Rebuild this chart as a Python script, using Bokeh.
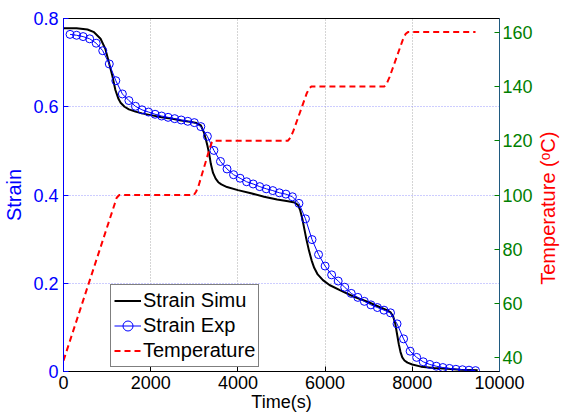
import math
from bokeh.plotting import figure
from bokeh.layouts import row
from bokeh.models import (Range1d, LinearAxis, FixedTicker, CustomJSTickFormatter,
                          Legend, LegendItem, Label)
from bokeh.embed import file_html
from bokeh.resources import INLINE

# ---- data -------------------------------------------------------------
# simulated strain (s, -)
time_sim = [0, 300, 550, 700, 850, 960, 1040, 1120, 1190, 1260, 1310, 1400, 1500,
            1650, 1800, 2000, 2250, 2500, 2700, 2900, 3050, 3150, 3220, 3260, 3300,
            3340, 3380, 3430, 3490, 3550, 3620, 3750, 4000, 4300, 4600, 4900, 5150,
            5300, 5380, 5430, 5480, 5520, 5570, 5630, 5690, 5750, 5830, 5950, 6100,
            6350, 6650, 7000, 7270, 7420, 7500, 7560, 7610, 7650, 7690, 7730, 7770,
            7820, 7890, 8000, 8200, 8500, 8800, 9100, 9500]
strain_sim = [0.778, 0.778, 0.775, 0.769, 0.754, 0.731, 0.701, 0.670, 0.638, 0.618,
              0.609, 0.600, 0.594, 0.589, 0.585, 0.581, 0.576, 0.573, 0.569, 0.566,
              0.563, 0.558, 0.542, 0.528, 0.512, 0.494, 0.470, 0.450, 0.437, 0.429,
              0.424, 0.418, 0.411, 0.404, 0.396, 0.390, 0.386, 0.383, 0.377, 0.365,
              0.345, 0.325, 0.300, 0.274, 0.252, 0.235, 0.220, 0.207, 0.196, 0.184,
              0.170, 0.157, 0.145, 0.139, 0.134, 0.125, 0.108, 0.085, 0.062, 0.044,
              0.032, 0.025, 0.020, 0.016, 0.011, 0.008, 0.006, 0.004, 0.003]

# measured strain, sampled every 150 s
time_exp = list(range(150, 9451, 150))
strain_exp = [0.764, 0.762, 0.759, 0.754, 0.744, 0.727, 0.697, 0.659, 0.629, 0.614,
              0.601, 0.593, 0.588, 0.583, 0.579, 0.576, 0.573, 0.570, 0.567, 0.564,
              0.555, 0.533, 0.501, 0.476, 0.459, 0.446, 0.438, 0.430, 0.425, 0.419,
              0.414, 0.410, 0.405, 0.402, 0.396, 0.381, 0.346, 0.299, 0.265, 0.239,
              0.219, 0.205, 0.191, 0.177, 0.168, 0.159, 0.151, 0.145, 0.139, 0.133,
              0.108, 0.074, 0.046, 0.032, 0.022, 0.016, 0.012, 0.009, 0.007, 0.005,
              0.004, 0.003, 0.002]

# temperature programme (s, degC)
time_temp = [0, 1170, 1220, 1280, 2990, 3040, 3100, 3350, 3400, 3440, 5150, 5210,
             5270, 5580, 5640, 5690, 7360, 7420, 7480, 7790, 7850, 7900, 9450]
temp = [39, 96.5, 99, 100, 100, 101.2, 103.5, 117, 119.3, 120, 120, 121.3, 123.5,
        137.5, 139.4, 140, 140, 141.3, 143.5, 157.5, 159.4, 160, 160]

x_ticks = [0, 2000, 4000, 6000, 8000, 10000]
strain_ticks = [0, 0.2, 0.4, 0.6, 0.8]
temp_ticks = [40, 60, 80, 100, 120, 140, 160]

# ---- styling ----------------------------------------------------------
FONT = "Liberation Sans"
BLUE = "#0000ff"
GREEN = "#008000"
RED = "#ff0000"
FS = "18px"
LABEL_FS = "20px"

MAIN_W, H = 537, 415
STRIP_W = 24          # narrow strip on the right carrying the temperature title

p = figure(width=MAIN_W, height=H, output_backend="svg", toolbar_location=None,
           x_range=Range1d(0, 10000), y_range=Range1d(0, 0.8),
           min_border_left=63, min_border_right=38, min_border_top=18,
           min_border_bottom=44, background_fill_color="white",
           border_fill_color="white")
p.extra_y_ranges = {"temp": Range1d(35, 165)}
p.outline_line_color = "black"
p.outline_line_width = 1

# bottom axis
xa = p.xaxis[0]
xa.ticker = FixedTicker(ticks=x_ticks)
xa.axis_label = "Time(s)"
xa.axis_line_color = "black"
xa.major_tick_line_color = "black"
xa.major_tick_in = 5
xa.major_tick_out = 0
xa.minor_tick_line_color = None
xa.major_label_text_font = FONT
xa.major_label_text_font_size = FS
xa.major_label_text_color = "black"
xa.major_label_standoff = 4
xa.axis_label_text_font = FONT
xa.axis_label_text_font_size = FS
xa.axis_label_text_font_style = "normal"
xa.axis_label_text_color = "black"
xa.axis_label_standoff = 0

# left (strain) axis
ya = p.yaxis[0]
ya.ticker = FixedTicker(ticks=strain_ticks)
ya.formatter = CustomJSTickFormatter(code="return Number(tick.toFixed(1)).toString();")
ya.axis_label = "Strain"
ya.axis_line_color = BLUE
ya.major_tick_line_color = BLUE
ya.major_tick_in = 5
ya.major_tick_out = 0
ya.minor_tick_line_color = None
ya.major_label_text_font = FONT
ya.major_label_text_font_size = FS
ya.major_label_text_color = BLUE
ya.major_label_standoff = 5
ya.axis_label_text_font = FONT
ya.axis_label_text_font_size = LABEL_FS
ya.axis_label_text_font_style = "normal"
ya.axis_label_text_color = BLUE
ya.axis_label_standoff = 5

# right (temperature) axis
ra = LinearAxis(y_range_name="temp", ticker=FixedTicker(ticks=temp_ticks))
ra.axis_line_color = "#1f5a80"
ra.major_tick_line_color = GREEN
ra.major_tick_in = 5
ra.major_tick_out = 0
ra.minor_tick_line_color = None
ra.major_label_text_font = FONT
ra.major_label_text_font_size = FS
ra.major_label_text_color = GREEN
ra.major_label_standoff = 3
p.add_layout(ra, "right")

# grids: grey dotted verticals, light-blue dotted horizontals
p.xgrid.ticker = FixedTicker(ticks=x_ticks)
p.xgrid.grid_line_color = "#aaaaaa"
p.xgrid.grid_line_dash = "1 2"
p.xgrid.grid_line_width = 1
p.ygrid.ticker = FixedTicker(ticks=strain_ticks)
p.ygrid.grid_line_color = "#9a9aff"
p.ygrid.grid_line_dash = "1 2"
p.ygrid.grid_line_width = 1

# ---- curves -----------------------------------------------------------
r_sim = p.line(time_sim, strain_sim, line_color="black", line_width=2)
r_exp_line = p.line(time_exp, strain_exp, line_color=BLUE, line_width=1)
r_exp_pts = p.scatter(time_exp, strain_exp, marker="circle", size=8,
                      line_color=BLUE, line_width=1, fill_color=None)
r_temp = p.line(time_temp, temp, y_range_name="temp", line_color=RED,
                line_width=2, line_dash="6 4")

legend = Legend(items=[
    LegendItem(label="Strain Simu", renderers=[r_sim]),
    LegendItem(label="Strain Exp", renderers=[r_exp_line, r_exp_pts]),
    LegendItem(label="Temperature", renderers=[r_temp]),
], location=(47, 4))
legend.border_line_color = "black"
legend.border_line_width = 1
legend.background_fill_color = "white"
legend.background_fill_alpha = 1
legend.label_text_font = FONT
legend.label_text_font_size = "20px"
legend.label_text_color = "black"
legend.glyph_width = 27
legend.glyph_height = 25
legend.label_height = 25
legend.spacing = 0
legend.padding = 3
legend.margin = 0
legend.label_standoff = 2
p.add_layout(legend)

# ---- right-hand title strip (reads bottom to top, like "Strain") -------
q = figure(width=STRIP_W, height=H, output_backend="svg", toolbar_location=None,
           x_range=Range1d(0, STRIP_W), y_range=Range1d(0, H),
           x_axis_type=None, y_axis_type=None,
           min_border=0, min_border_left=0, min_border_right=0,
           min_border_top=0, min_border_bottom=0,
           background_fill_color="white", border_fill_color="white")
q.outline_line_color = None
q.grid.visible = False
q.add_layout(Label(x=10, y=192, text="Temperature (ᵒC)", angle=math.pi / 2,
                   text_align="center", text_baseline="middle",
                   text_color=RED, text_font=FONT, text_font_size=LABEL_FS))

layout = row(p, q, spacing=0)
open("out.html", "w").write(file_html(layout, INLINE))
